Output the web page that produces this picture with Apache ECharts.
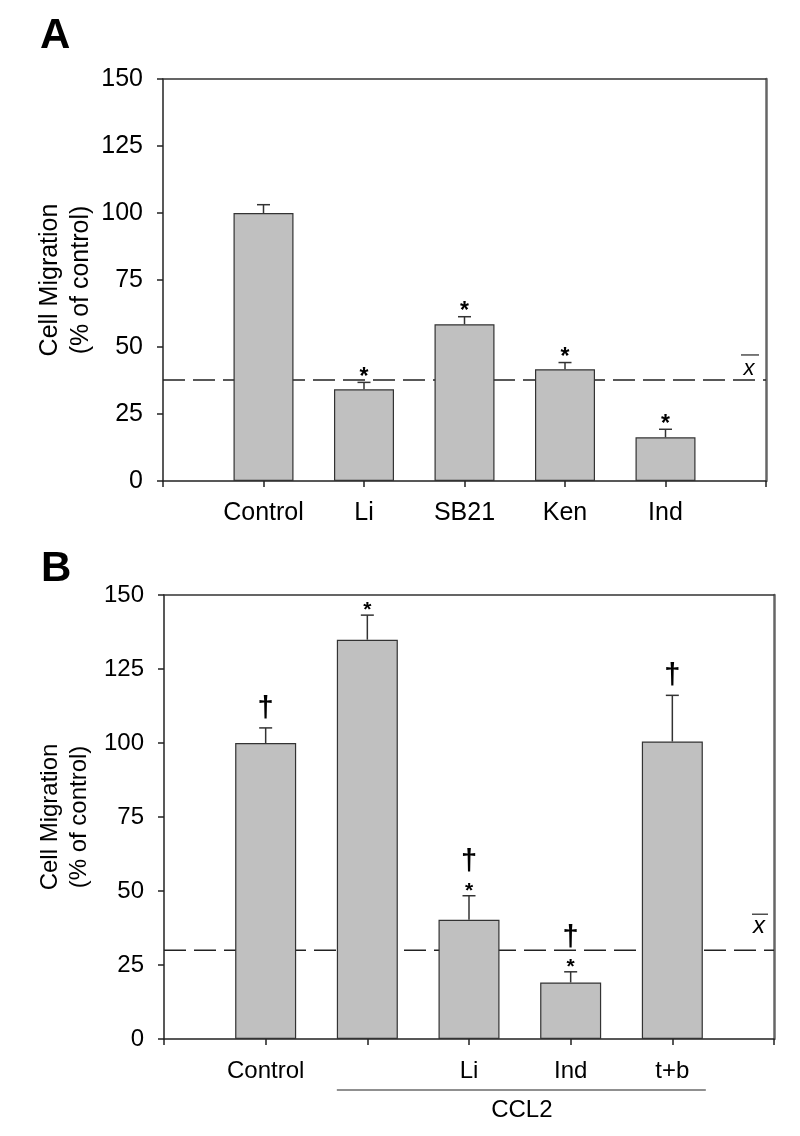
<!DOCTYPE html>
<html>
<head>
<meta charset="utf-8">
<script src="https://cdn.jsdelivr.net/npm/echarts@6/dist/echarts.min.js"></script>
<style>
html,body{margin:0;padding:0;background:#fff;}
#c{width:800px;height:1136px;}
</style>
</head>
<body>
<div id="c"></div>
<script>
// ---------- data ----------
var catsA = ['Control', 'Li', 'SB21', 'Ken', 'Ind'];
var valsA = [100, 34.2, 58.5, 41.7, 16.3];
var errA = [3.1, 2.6, 2.8, 2.5, 3.0];
var starA = ['', '*', '*', '*', '*'];
var daggerA = ['', '', '', '', ''];
var meanA = 37.7;

var catsB = ['Control', '', 'Li', 'Ind', 't+b'];
var valsB = [100, 134.9, 40.3, 19.1, 100.5];
var errB = [5.1, 8.3, 8.1, 3.6, 15.6];
var starB = ['', '*', '*', '*', ''];
var daggerB = ['\u2020', '', '\u2020', '\u2020', '\u2020'];
var meanB = 30;
var groupLabel = 'CCL2';
var groupFrom = 2, groupTo = 5; // categories under the CCL2 bracket (1-based)

var yTicks = [0, 25, 50, 75, 100, 125, 150];
var yName = 'Cell Migration\n(% of control)';
var panelLetters = ['A', 'B'];

// ---------- chart ----------
var FONT = '"Liberation Sans", Arial, sans-serif';
var chart = echarts.init(document.getElementById('c'), null, {renderer: 'canvas'});

function pairs(vals) { return vals.map(function (v, i) { return [i + 1, v]; }); }

function errSeries(xi, yi, vals, errs, stars, daggers, fs) {
  return {
    type: 'custom', xAxisIndex: xi, yAxisIndex: yi, clip: false, z: 5,
    data: vals.map(function (v, i) { return [i + 1, v, errs[i]]; }),
    renderItem: function (params, api) {
      var i = params.dataIndex;
      var x = api.value(0), y = api.value(1), e = api.value(2);
      var p0 = api.coord([x, y]), p1 = api.coord([x, y + e]);
      var ch = [
        {type: 'line', shape: {x1: p0[0], y1: p0[1], x2: p1[0], y2: p1[1]}, style: {stroke: '#333', lineWidth: 1.5}},
        {type: 'line', shape: {x1: p1[0] - 6.5, y1: p1[1], x2: p1[0] + 6.5, y2: p1[1]}, style: {stroke: '#333', lineWidth: 1.5}}
      ];
      var top = p1[1];
      if (stars[i]) {
        ch.push({type: 'text', style: {text: stars[i], x: p1[0], y: top - 5, align: 'center', verticalAlign: 'middle',
          font: 'bold ' + fs.star + 'px ' + FONT, fill: '#000'}});
      }
      if (daggers[i]) {
        var dy = stars[i] ? 34 : 19;
        ch.push({type: 'text', style: {text: daggers[i], x: p1[0], y: top - dy, align: 'center', verticalAlign: 'middle',
          font: 'bold ' + fs.dagger + 'px ' + FONT, fill: '#000'}});
      }
      return {type: 'group', children: ch};
    }
  };
}

function xAxes(gi, cats, fs) {
  return [
    {type: 'value', gridIndex: gi, position: 'bottom', min: 0, max: 6, interval: 1,
      axisLine: {show: true, onZero: false, lineStyle: {color: '#222', width: 1.5}},
      axisTick: {show: true, length: 6, lineStyle: {color: '#222', width: 1.5}},
      axisLabel: {show: true, margin: 20, fontSize: fs, fontFamily: FONT, color: '#000',
        formatter: function (v) { return cats[v - 1] || ''; }},
      splitLine: {show: false}},
    {type: 'value', gridIndex: gi, position: 'top', min: 0, max: 6,
      axisLine: {show: true, onZero: false, lineStyle: {color: '#333', width: 1.5}},
      axisTick: {show: false}, axisLabel: {show: false}, splitLine: {show: false}}
  ];
}
function yAxes(gi, fs) {
  return [
    {type: 'value', gridIndex: gi, position: 'left', min: yTicks[0], max: yTicks[yTicks.length - 1], interval: 25,
      axisLine: {show: true, onZero: false, lineStyle: {color: '#222', width: 1.5}},
      axisTick: {show: true, length: 6, lineStyle: {color: '#222', width: 1.5}},
      axisLabel: {margin: 20, fontSize: fs, fontFamily: FONT, color: '#000'},
      splitLine: {show: false}},
    {type: 'value', gridIndex: gi, position: 'right', min: 0, max: 150,
      axisLine: {show: true, onZero: false, lineStyle: {color: '#666', width: 2.5}},
      axisTick: {show: false}, axisLabel: {show: false}, splitLine: {show: false}}
  ];
}

function barSeries(xi, yi, vals, w) {
  return {type: 'bar', xAxisIndex: xi, yAxisIndex: yi, data: pairs(vals), barWidth: w,
    itemStyle: {color: '#c0c0c0', borderColor: '#333', borderWidth: 1.2}, z: 3, silent: true};
}
function meanSeries(xi, yi, m) {
  return {type: 'line', xAxisIndex: xi, yAxisIndex: yi, data: [[0, m], [6, m]], symbol: 'none', z: 2,
    lineStyle: {color: '#222', width: 1.5, type: [22, 8]}, silent: true};
}

var gridA = {left: 163, top: 79, width: 603, height: 402};
var gridB = {left: 164, top: 595, width: 610, height: 444};
var option = {
  animation: false,
  backgroundColor: '#fff',
  grid: [gridA, gridB],
  xAxis: xAxes(0, catsA, 25).concat(xAxes(1, catsB, 24)),
  yAxis: yAxes(0, 25).concat(yAxes(1, 24)),
  series: [
    meanSeries(0, 0, meanA),
    barSeries(0, 0, valsA, 60),
    errSeries(0, 0, valsA, errA, starA, daggerA, {star: 23, dagger: 28}),
    meanSeries(2, 2, meanB),
    barSeries(2, 2, valsB, 61),
    errSeries(2, 2, valsB, errB, starB, daggerB, {star: 21, dagger: 29})
  ]
};
chart.setOption(option);

// ---------- annotations placed through the axes ----------
function px(xi, yi, pt) { return chart.convertToPixel({xAxisIndex: xi, yAxisIndex: yi}, pt); }
var mA = px(0, 0, [6, meanA]);
var mB = px(2, 2, [6, meanB]);
var g1 = px(2, 2, [groupFrom, 0]);
var g2 = px(2, 2, [groupTo, 0]);
var halfBar = 30.5;

var elements = [
  {type: 'text', left: 40, top: 15, style: {text: panelLetters[0], font: 'bold 42px ' + FONT, fill: '#000'}},
  {type: 'text', left: 41, top: 548, style: {text: panelLetters[1], font: 'bold 42px ' + FONT, fill: '#000'}},
  // y-axis titles
  {type: 'text', x: 66, y: gridA.top + gridA.height / 2, rotation: Math.PI / 2,
    style: {text: yName, align: 'center', verticalAlign: 'middle', font: '25px ' + FONT, lineHeight: 31, fill: '#000'}},
  {type: 'text', x: 65, y: gridB.top + gridB.height / 2, rotation: Math.PI / 2,
    style: {text: yName, align: 'center', verticalAlign: 'middle', font: '24px ' + FONT, lineHeight: 29, fill: '#000'}},
  // x-bar labels
  {type: 'text', x: mA[0] - 17, y: mA[1] - 11, style: {text: 'x', align: 'center', verticalAlign: 'middle', font: 'italic 22px ' + FONT, fill: '#000'}},
  {type: 'line', shape: {x1: mA[0] - 25, y1: mA[1] - 25, x2: mA[0] - 7, y2: mA[1] - 25}, style: {stroke: '#222', lineWidth: 1.2}},
  {type: 'text', x: mB[0] - 15, y: mB[1] - 24, style: {text: 'x', align: 'center', verticalAlign: 'middle', font: 'italic 24px ' + FONT, fill: '#000'}},
  {type: 'line', shape: {x1: mB[0] - 22, y1: mB[1] - 36, x2: mB[0] - 6, y2: mB[1] - 36}, style: {stroke: '#222', lineWidth: 1.2}},
  // CCL2 bracket
  {type: 'line', shape: {x1: g1[0] - halfBar, y1: g1[1] + 51, x2: g2[0] + halfBar + 3, y2: g1[1] + 51}, style: {stroke: '#222', lineWidth: 1.2}},
  {type: 'text', x: (g1[0] + g2[0]) / 2 + 2, y: g1[1] + 71, style: {text: groupLabel, align: 'center', verticalAlign: 'middle', font: '24px ' + FONT, fill: '#000'}}
];
chart.setOption({graphic: {elements: elements}});
</script>
</body>
</html>
